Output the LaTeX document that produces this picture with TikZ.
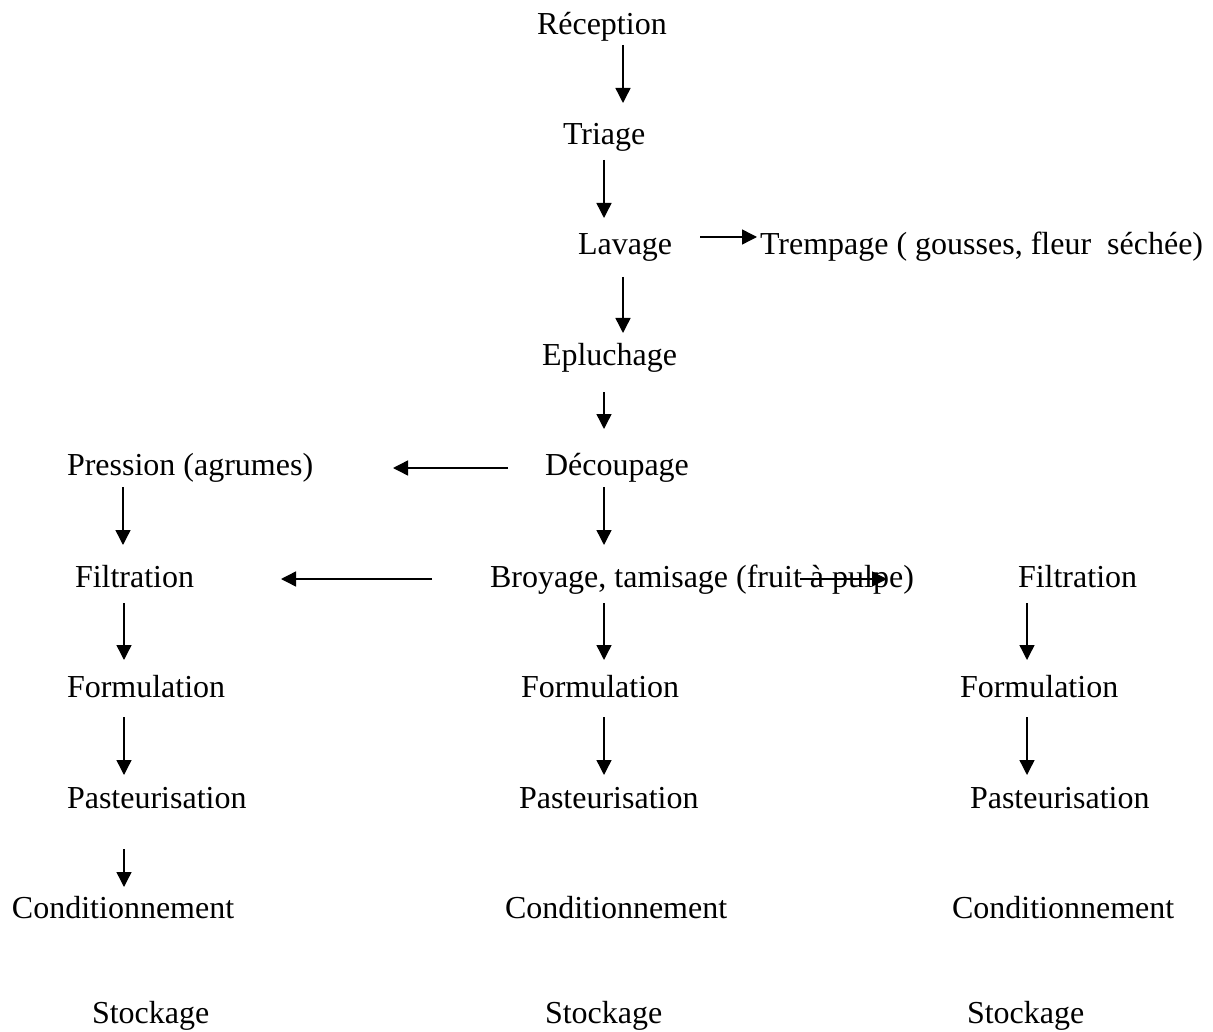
\documentclass[tikz,border=0pt]{standalone}
\usepackage{fontspec}
\setmainfont{Liberation Serif}
\usetikzlibrary{arrows.meta}
\begin{document}
\begin{tikzpicture}[x=1pt,y=-1pt,
  lbl/.style={inner sep=0pt, outer sep=0pt, anchor=base west,
    font=\fontsize{32}{38}\selectfont},
  arr/.style={line width=1.4pt, -{Triangle[length=15pt,width=15pt]}}]
\fill[white] (0,0) rectangle (1213,1032);
\useasboundingbox (0,0) rectangle (1213,1032);

% main stem
\node[lbl] (recep)  at (537,35)  {Réception};
\node[lbl] (triage) at (563,145) {Triage};
\node[lbl] (lavage) at (578,255) {Lavage};
\node[lbl] (tremp)  at (760,255) {Trempage ( gousses, fleur\ \ séchée)};
\node[lbl] (eplu)   at (542,365) {Epluchage};
\node[lbl] (decoup) at (545,475) {Découpage};
\node[lbl] (press)  at (67,475)  {Pression (agrumes)};

% three branches
\node[lbl] (filtL)  at (75,587)  {Filtration};
\node[lbl] (broy)   at (490,587) {Broyage, tamisage (fruit à pulpe)};
\node[lbl] (filtR)  at (1018,587) {Filtration};

\node[lbl] (formL)  at (67,697)  {Formulation};
\node[lbl] (formM)  at (521,697) {Formulation};
\node[lbl] (formR)  at (960,697) {Formulation};

\node[lbl] (pastL)  at (67,808)  {Pasteurisation};
\node[lbl] (pastM)  at (519,808) {Pasteurisation};
\node[lbl] (pastR)  at (970,808) {Pasteurisation};

\node[lbl] (condL)  at (12,918)  {Conditionnement};
\node[lbl] (condM)  at (505,918) {Conditionnement};
\node[lbl] (condR)  at (952,918) {Conditionnement};

\node[lbl] (stockL) at (92,1023)  {Stockage};
\node[lbl] (stockM) at (545,1023) {Stockage};
\node[lbl] (stockR) at (967,1023) {Stockage};

% connectors
\draw[arr] ([shift={(86,10)}]recep.base west)  -- ([shift={(60,-42)}]triage.base west);
\draw[arr] ([shift={(41,15)}]triage.base west) -- ([shift={(26,-37)}]lavage.base west);
\draw[arr] ([shift={(122,-18)}]lavage.base west) -- ([shift={(-3,-18)}]tremp.base west);
\draw[arr] ([shift={(45,22)}]lavage.base west) -- ([shift={(81,-32)}]eplu.base west);
\draw[arr] ([shift={(62,27)}]eplu.base west)   -- ([shift={(59,-46)}]decoup.base west);
\draw[arr] ([shift={(-37,-7)}]decoup.base west) -- ([shift={(326,-7)}]press.base west);
\draw[arr] ([shift={(59,12)}]decoup.base west) -- ([shift={(114,-42)}]broy.base west);
\draw[arr] ([shift={(56,12)}]press.base west)  -- ([shift={(48,-42)}]filtL.base west);
\draw[arr] ([shift={(-58,-8)}]broy.base west)  -- ([shift={(206,-8)}]filtL.base west);
\draw[arr] ([shift={(310,-8)}]broy.base west)  -- ([shift={(-131,-8)}]filtR.base west);

\draw[arr] ([shift={(49,16)}]filtL.base west)  -- ([shift={(57,-37)}]formL.base west);
\draw[arr] ([shift={(114,16)}]broy.base west)  -- ([shift={(83,-37)}]formM.base west);
\draw[arr] ([shift={(9,16)}]filtR.base west)   -- ([shift={(67,-37)}]formR.base west);

\draw[arr] ([shift={(57,20)}]formL.base west)  -- ([shift={(57,-33)}]pastL.base west);
\draw[arr] ([shift={(83,20)}]formM.base west)  -- ([shift={(85,-33)}]pastM.base west);
\draw[arr] ([shift={(67,20)}]formR.base west)  -- ([shift={(57,-33)}]pastR.base west);

\draw[arr] ([shift={(57,41)}]pastL.base west)  -- ([shift={(112,-31)}]condL.base west);
\end{tikzpicture}
\end{document}
